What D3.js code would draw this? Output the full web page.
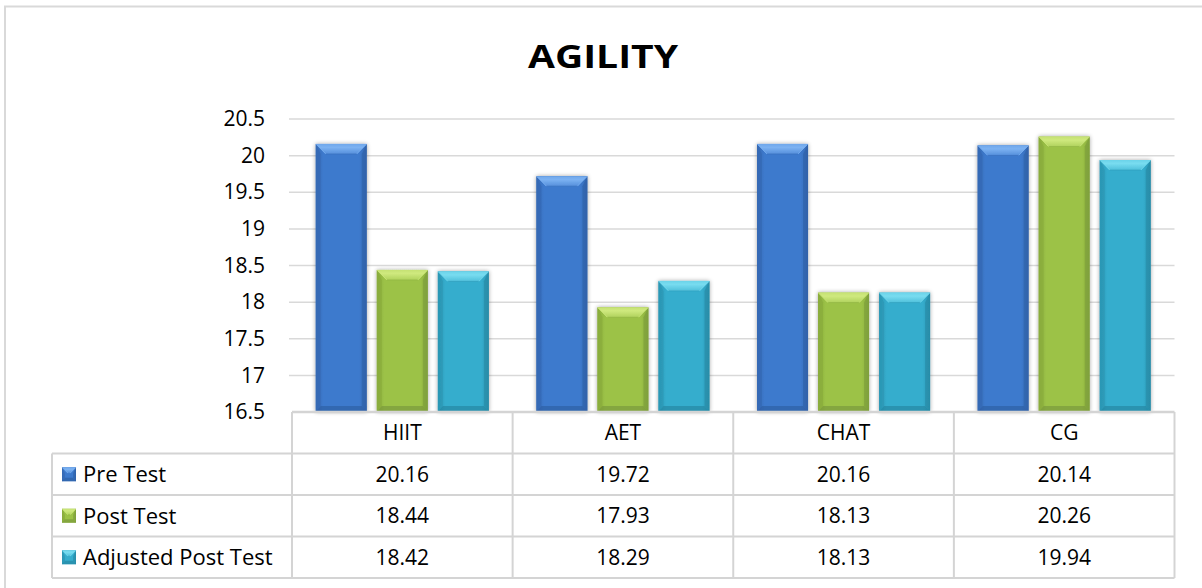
<!DOCTYPE html>
<html>
<head>
<meta charset="utf-8">
<script src="https://cdn.jsdelivr.net/npm/d3@7"></script>
<style>
  html, body { margin: 0; padding: 0; background: #fff; }
  svg { display: block; }
  text { font-family: "Open Sans", "Noto Sans", sans-serif; fill: #000; }
</style>
</head>
<body>
<svg id="chart" width="1202" height="588"></svg>
<script>
// Agility scores per training group
const categories = ["HIIT", "AET", "CHAT", "CG"];
const seriesNames = ["Pre Test", "Post Test", "Adjusted Post Test"];
const preTest = [20.16, 19.72, 20.16, 20.14];
const postTest = [18.44, 17.93, 18.13, 20.26];
const adjustedPostTest = [18.42, 18.29, 18.13, 19.94];
const yTicks = [16.5, 17, 17.5, 18, 18.5, 19, 19.5, 20, 20.5];
const title = "AGILITY";

const seriesValues = [preTest, postTest, adjustedPostTest];
const palette = [
  { base: "#3d7acd", light: "#7cb2f2", dark: "#2b5c9f", edge: "#3569b4" },
  { base: "#9cc247", light: "#cfe97e", dark: "#74933a", edge: "#89ac3c" },
  { base: "#35adcd", light: "#78dcf0", dark: "#23829c", edge: "#2c97b4" }
];

const svg = d3.select("#chart");
const defs = svg.append("defs");

// soft shadow around bars
const shadow = defs.append("filter").attr("id", "barShadow")
  .attr("x", "-20%").attr("y", "-10%").attr("width", "140%").attr("height", "120%");
shadow.append("feGaussianBlur").attr("in", "SourceAlpha").attr("stdDeviation", 2).attr("result", "blur");
shadow.append("feComponentTransfer").attr("in", "blur").attr("result", "soft")
  .append("feFuncA").attr("type", "linear").attr("slope", 0.35);
const merge = shadow.append("feMerge");
merge.append("feMergeNode").attr("in", "soft");
merge.append("feMergeNode").attr("in", "SourceGraphic");

palette.forEach((c, i) => {
  const g = defs.append("linearGradient").attr("id", "body" + i)
    .attr("x1", 0).attr("x2", 1).attr("y1", 0).attr("y2", 0);
  g.append("stop").attr("offset", "0%").attr("stop-color", c.edge);
  g.append("stop").attr("offset", "15%").attr("stop-color", c.base);
  g.append("stop").attr("offset", "85%").attr("stop-color", c.base);
  g.append("stop").attr("offset", "100%").attr("stop-color", c.edge);
  const t = defs.append("linearGradient").attr("id", "top" + i)
    .attr("x1", 0).attr("x2", 0).attr("y1", 0).attr("y2", 1);
  t.append("stop").attr("offset", "0%").attr("stop-color", d3.interpolateRgb(c.light, c.base)(0.2));
  t.append("stop").attr("offset", "35%").attr("stop-color", c.light);
  t.append("stop").attr("offset", "100%").attr("stop-color", d3.interpolateRgb(c.light, c.base)(0.6));
});

// outer chart frame
svg.append("rect")
  .attr("x", 5).attr("y", 6.5).attr("width", 1210).attr("height", 600)
  .attr("fill", "none").attr("stroke", "#d9d9d9").attr("stroke-width", 2);

// title
svg.append("text")
  .attr("x", 603).attr("y", 68)
  .attr("text-anchor", "middle")
  .attr("font-size", 33).attr("font-weight", 700)
  .attr("textLength", 150).attr("lengthAdjust", "spacingAndGlyphs")
  .text(title);

// scales
const plotLeft = 292, plotRight = 1174.5, plotTop = 119, plotBottom = 412;
const x0 = d3.scaleBand().domain(categories).range([plotLeft, plotRight]).padding(0);
const groupPad = 23.75;
const x1 = d3.scaleBand().domain(d3.range(seriesNames.length))
  .range([groupPad, x0.bandwidth() - groupPad]).paddingInner(10 / 61);
const y = d3.scaleLinear().domain([16.5, 20.5]).range([plotBottom, plotTop]);

// gridlines
svg.append("g").selectAll("line").data(yTicks.filter(t => t > 16.5)).join("line")
  .attr("x1", 289).attr("x2", plotRight)
  .attr("y1", d => y(d)).attr("y2", d => y(d))
  .attr("stroke", "#d9d9d9").attr("stroke-width", 1.5);

// y axis labels
const yAxis = d3.axisLeft(y).tickValues(yTicks).tickSize(0).tickPadding(0)
  .tickFormat(d3.format("~g"));
const yAxisG = svg.append("g").attr("transform", "translate(265,0)").call(yAxis);
yAxisG.select(".domain").remove();
yAxisG.selectAll("text").attr("font-size", 21).attr("fill", "#000")
  .attr("font-family", "'Open Sans', sans-serif");

// beveled bar drawing
function drawBar(g, x, yTop, w, h, i, b) {
  const c = palette[i];
  const bb = Math.min(b, h / 2, w / 2);
  g.append("rect").attr("x", x).attr("y", yTop).attr("width", w).attr("height", h)
    .attr("fill", `url(#body${i})`);
  // left face
  g.append("polygon")
    .attr("points", [[x, yTop], [x + bb * 0.5, yTop + bb], [x + bb * 0.5, yTop + h - bb * 0.6], [x, yTop + h]].join(" "))
    .attr("fill", c.edge).attr("opacity", 0.75);
  // right face
  g.append("polygon")
    .attr("points", [[x + w, yTop], [x + w - bb * 0.5, yTop + bb], [x + w - bb * 0.5, yTop + h - bb * 0.6], [x + w, yTop + h]].join(" "))
    .attr("fill", c.dark).attr("opacity", 0.5);
  // bottom face
  g.append("polygon")
    .attr("points", [[x, yTop + h], [x + w, yTop + h], [x + w - bb * 0.5, yTop + h - bb * 0.6], [x + bb * 0.5, yTop + h - bb * 0.6]].join(" "))
    .attr("fill", c.dark).attr("opacity", 0.6);
  // top bevel
  g.append("polygon")
    .attr("points", [[x, yTop], [x + w, yTop], [x + w - bb, yTop + bb], [x + bb, yTop + bb]].join(" "))
    .attr("fill", `url(#top${i})`);
  // diagonal seams of the bevel
  g.append("path")
    .attr("d", `M${x + 0.5},${yTop + 0.5}L${x + bb},${yTop + bb}M${x + w - 0.5},${yTop + 0.5}L${x + w - bb},${yTop + bb}`)
    .attr("stroke", c.light).attr("stroke-width", 1).attr("opacity", 0.8);
  // shaded edge under the bevel
  g.append("line").attr("x1", x + bb).attr("x2", x + w - bb).attr("y1", yTop + bb).attr("y2", yTop + bb)
    .attr("stroke", c.edge).attr("stroke-width", 0.8).attr("opacity", 0.6);
}

const barsG = svg.append("g");
categories.forEach((cat, ci) => {
  seriesValues.forEach((vals, si) => {
    const g = barsG.append("g").attr("filter", "url(#barShadow)");
    const bx = x0(cat) + x1(si);
    const yTop = y(vals[ci]);
    drawBar(g, bx, yTop, x1.bandwidth(), y(16.5) - yTop, si, 10);
  });
});

// data table
const tableLeft = 52;
const rowH = 41.5;
const headerTop = plotBottom, headerBottom = 453.5;
const rowTops = seriesNames.map((_, i) => headerBottom + i * rowH);
const tableBottom = headerBottom + seriesNames.length * rowH;
const lineColor = "#d4d4d4";
const tbl = svg.append("g");

// horizontal rules
tbl.append("line").attr("x1", plotLeft).attr("x2", plotRight).attr("y1", headerTop).attr("y2", headerTop)
  .attr("stroke", lineColor).attr("stroke-width", 2.5);
[headerBottom, ...rowTops.slice(1), tableBottom].forEach(yy => {
  tbl.append("line").attr("x1", tableLeft).attr("x2", plotRight).attr("y1", yy).attr("y2", yy)
    .attr("stroke", lineColor).attr("stroke-width", 2);
});
// vertical rules
tbl.append("line").attr("x1", tableLeft).attr("x2", tableLeft).attr("y1", headerBottom).attr("y2", tableBottom)
  .attr("stroke", lineColor).attr("stroke-width", 2);
[...categories.map(c => x0(c)), plotRight].forEach(xx => {
  tbl.append("line").attr("x1", xx).attr("x2", xx).attr("y1", headerTop).attr("y2", tableBottom)
    .attr("stroke", lineColor).attr("stroke-width", 2);
});

// category headers
tbl.selectAll("text.cat").data(categories).join("text").attr("class", "cat")
  .attr("x", d => x0(d) + x0.bandwidth() / 2)
  .attr("y", (headerTop + headerBottom) / 2)
  .attr("dy", "0.36em").attr("text-anchor", "middle").attr("font-size", 21)
  .text(d => d);

// series rows
seriesNames.forEach((name, si) => {
  const cy = rowTops[si] + rowH / 2;
  const mg = tbl.append("g");
  drawBar(mg, 62, cy - 7, 14, 14, si, 6);
  tbl.append("text").attr("x", 83).attr("y", cy).attr("dy", "0.36em")
    .attr("font-size", 22).text(name);
  tbl.selectAll(null).data(seriesValues[si]).join("text")
    .attr("x", (d, ci) => x0(categories[ci]) + x0.bandwidth() / 2)
    .attr("y", cy).attr("dy", "0.36em").attr("text-anchor", "middle")
    .attr("font-size", 21)
    .text(d => d.toFixed(2));
});
</script>
</body>
</html>
